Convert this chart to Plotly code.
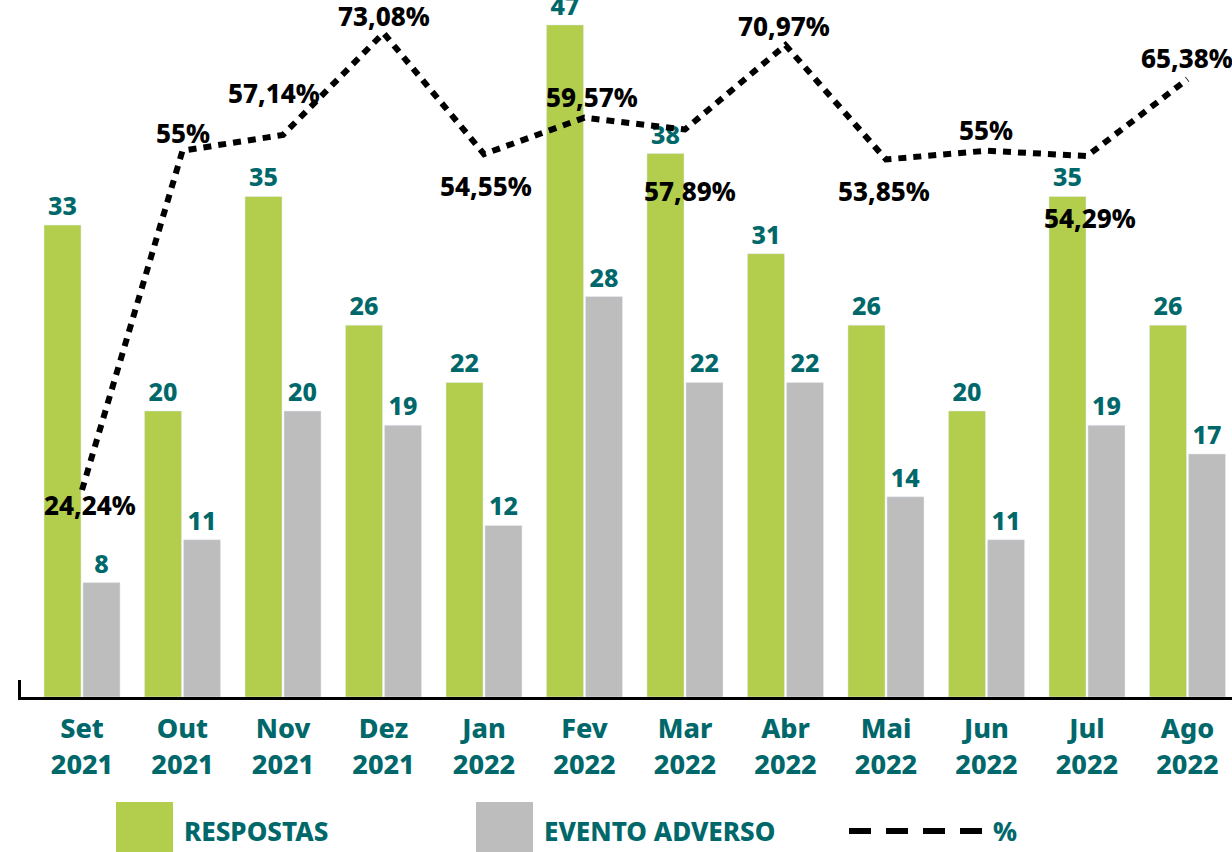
import math
import plotly.graph_objects as go

months = ["Set", "Out", "Nov", "Dez", "Jan", "Fev", "Mar", "Abr", "Mai", "Jun", "Jul", "Ago"]
years = ["2021", "2021", "2021", "2021", "2022", "2022", "2022", "2022", "2022", "2022", "2022", "2022"]
respostas = [33, 20, 35, 26, 22, 47, 38, 31, 26, 20, 35, 26]
evento_adverso = [8, 11, 20, 19, 12, 28, 22, 22, 14, 11, 19, 17]
percent = [24.24, 55, 57.14, 73.08, 54.55, 59.57, 57.89, 70.97, 53.85, 55, 54.29, 65.38]
percent_text = ["24,24%", "55%", "57,14%", "73,08%", "54,55%", "59,57%", "57,89%",
                "70,97%", "53,85%", "55%", "54,29%", "65,38%"]

# label offsets for the % annotations (pixels: dx right, dy down) -- styling only
pct_offsets = [(8, 15), (0, -18), (-9, -42), (0, -17), (2, 32), (7, -21),
               (5, 62), (-1, -19), (-2, 32), (0, -21), (3, 62), (0, -21)]

GREEN = "#B2CE4C"
GRAY = "#BDBDBD"
TEAL = "#00686A"
FONT = "Noto Sans"
WEIGHT = 800

W, H = 1232, 852
ML, MR, MT, MB = 18, 0, 0, 155
PW, PH = W - ML - MR, H - MT - MB

cats = [f"{m} {y}" for m, y in zip(months, years)]
ticktext = [f"{m}<br>{y}" for m, y in zip(months, years)]

fig = go.Figure()
fig.add_trace(go.Bar(
    x=cats, y=respostas, name="RESPOSTAS", marker_color=GREEN,
    text=[str(v) for v in respostas], textposition="outside",
    textfont=dict(family=FONT, size=25, color=TEAL, weight=WEIGHT),
    cliponaxis=False,
))
fig.add_trace(go.Bar(
    x=cats, y=evento_adverso, name="EVENTO ADVERSO", marker_color=GRAY,
    text=[str(v) for v in evento_adverso], textposition="outside",
    textfont=dict(family=FONT, size=25, color=TEAL, weight=WEIGHT),
    cliponaxis=False,
))
fig.add_trace(go.Scatter(
    x=cats, y=percent, name="%", yaxis="y2", mode="lines",
    line=dict(color="black", width=6, dash="8px,7px"),
    cliponaxis=False,
))

for c, v, t, (dx, dy) in zip(cats, percent, percent_text, pct_offsets):
    fig.add_annotation(
        x=c, y=math.log10(v), xref="x", yref="y2", text=t, showarrow=False,
        xshift=dx, yshift=-dy,
        font=dict(family=FONT, size=26, color="black", weight=WEIGHT),
    )

def px_x(p):
    return (p - ML) / PW

def px_y(p):
    return (MT + PH - p) / PH

# legend drawn manually
fig.add_shape(type="rect", xref="paper", yref="paper",
              x0=px_x(116), x1=px_x(173), y0=px_y(852), y1=px_y(802),
              fillcolor=GREEN, line_width=0)
fig.add_shape(type="rect", xref="paper", yref="paper",
              x0=px_x(476), x1=px_x(533), y0=px_y(852), y1=px_y(802),
              fillcolor=GRAY, line_width=0)
fig.add_shape(type="line", xref="paper", yref="paper",
              x0=px_x(849), x1=px_x(982), y0=px_y(831), y1=px_y(831),
              line=dict(color="black", width=6, dash="22px,15px"))
for xp, txt in [(182, "RESPOSTAS"), (542, "EVENTO ADVERSO"), (991, "%")]:
    fig.add_annotation(x=px_x(xp), y=px_y(831), xref="paper", yref="paper",
                       text=txt, showarrow=False, xanchor="left", yanchor="middle",
                       font=dict(family=FONT, size=26, color=TEAL, weight=WEIGHT))

# small vertical tick at left end of axis
fig.add_shape(type="line", xref="paper", yref="paper",
              x0=px_x(19.5), x1=px_x(19.5), y0=0, y1=px_y(680),
              line=dict(color="black", width=3))

fig.update_layout(
    width=W, height=H,
    margin=dict(l=ML, r=MR, t=MT, b=MB),
    paper_bgcolor="white", plot_bgcolor="white",
    barmode="group", bargap=0.224, bargroupgap=0.05,
    showlegend=False,
    xaxis=dict(
        type="category", range=[-0.637, 11.443],
        tickmode="array", tickvals=cats, ticktext=ticktext,
        tickfont=dict(family=FONT, size=27, color=TEAL, weight=WEIGHT),
        ticklabelstandoff=6,
        showline=True, linecolor="black", linewidth=3,
        ticks="", showgrid=False, zeroline=False,
    ),
    yaxis=dict(range=[0, 48.74], visible=False, showgrid=False, zeroline=False),
    yaxis2=dict(type="log", range=[1.16742, 1.89841], overlaying="y", visible=False,
                showgrid=False, zeroline=False),
)

fig.write_html("out.html", config={"displayModeBar": False},
               post_script="document.body.style.margin='0';")
